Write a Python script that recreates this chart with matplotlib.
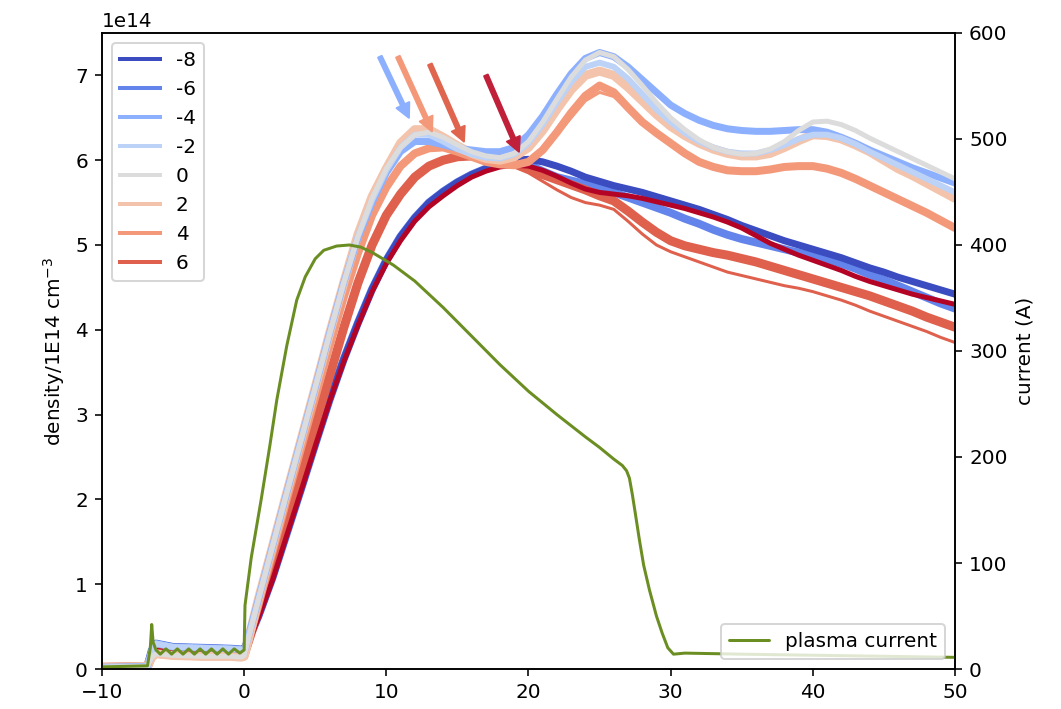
import numpy as np
import matplotlib
matplotlib.use("Agg")
import matplotlib.pyplot as plt

# ---- time axis (ms) ----
t_pre = [-10, -6.8, -6.5, -6.2, -5.0, -3.0, -1.0, -0.2]
t_main = list(range(0, 51))

# ---- density traces (units of 1e14 cm^-3), by bias value ----
pre_blue = [0.02, 0.03, 0.22, 0.30, 0.26, 0.25, 0.24, 0.23]
pre_red = [0.02, 0.03, 0.16, 0.22, 0.19, 0.18, 0.17, 0.17]
pre_pale = [0.02, 0.03, 0.14, 0.18, 0.16, 0.15, 0.15, 0.14]

dens_m8 = [0.23, 0.62, 1.08, 1.60, 2.12, 2.65, 3.17, 3.65, 4.08, 4.48,
           4.82, 5.10, 5.32, 5.50, 5.63, 5.74, 5.83, 5.90, 5.96, 6.00,
           6.01, 5.98, 5.93, 5.87, 5.80, 5.75, 5.70, 5.66, 5.62, 5.57,
           5.52, 5.47, 5.42, 5.36, 5.30, 5.23, 5.17, 5.11, 5.05, 5.00,
           4.95, 4.90, 4.85, 4.79, 4.73, 4.68, 4.62, 4.57, 4.52, 4.47, 4.42]
dens_m6 = [0.23, 0.62, 1.08, 1.60, 2.12, 2.65, 3.17, 3.65, 4.08, 4.48,
           4.82, 5.10, 5.32, 5.50, 5.63, 5.74, 5.83, 5.90, 5.95, 5.97,
           5.95, 5.87, 5.80, 5.76, 5.72, 5.68, 5.62, 5.56, 5.50, 5.44,
           5.38, 5.31, 5.25, 5.18, 5.12, 5.07, 5.03, 4.99, 4.95, 4.91,
           4.87, 4.83, 4.78, 4.72, 4.65, 4.59, 4.52, 4.45, 4.38, 4.31, 4.25]
dens_m4 = [0.20, 0.82, 1.45, 2.08, 2.70, 3.32, 3.95, 4.55, 5.08, 5.50,
           5.85, 6.10, 6.22, 6.22, 6.18, 6.14, 6.12, 6.10, 6.10, 6.15,
           6.30, 6.52, 6.78, 7.02, 7.20, 7.27, 7.22, 7.10, 6.95, 6.80,
           6.65, 6.55, 6.47, 6.41, 6.37, 6.35, 6.34, 6.34, 6.35, 6.36,
           6.36, 6.33, 6.27, 6.20, 6.12, 6.05, 5.98, 5.91, 5.85, 5.79, 5.73]
dens_m2 = [0.18, 0.82, 1.45, 2.08, 2.70, 3.32, 3.95, 4.55, 5.10, 5.53,
           5.88, 6.15, 6.30, 6.30, 6.22, 6.13, 6.07, 6.03, 6.02, 6.07,
           6.20, 6.42, 6.68, 6.92, 7.10, 7.15, 7.10, 6.96, 6.78, 6.60,
           6.45, 6.32, 6.22, 6.15, 6.10, 6.08, 6.08, 6.12, 6.18, 6.25,
           6.30, 6.30, 6.26, 6.19, 6.10, 6.02, 5.94, 5.86, 5.78, 5.70, 5.62]
dens_0 = [0.16, 0.82, 1.45, 2.08, 2.70, 3.32, 3.95, 4.55, 5.10, 5.55,
          5.90, 6.15, 6.30, 6.33, 6.27, 6.18, 6.10, 6.05, 6.03, 6.08,
          6.22, 6.45, 6.72, 6.98, 7.18, 7.27, 7.22, 7.07, 6.88, 6.68,
          6.50, 6.36, 6.24, 6.15, 6.10, 6.07, 6.08, 6.13, 6.22, 6.35,
          6.45, 6.46, 6.42, 6.35, 6.26, 6.18, 6.10, 6.02, 5.94, 5.86, 5.78]
dens_2 = [0.15, 0.82, 1.45, 2.08, 2.70, 3.32, 3.95, 4.55, 5.12, 5.57,
          5.90, 6.20, 6.36, 6.36, 6.27, 6.17, 6.08, 6.02, 6.00, 6.04,
          6.15, 6.35, 6.60, 6.83, 7.00, 7.05, 7.00, 6.86, 6.70, 6.54,
          6.40, 6.29, 6.20, 6.13, 6.08, 6.05, 6.05, 6.08, 6.15, 6.23,
          6.30, 6.29, 6.25, 6.18, 6.10, 6.00, 5.90, 5.82, 5.73, 5.64, 5.55]
dens_4 = [0.15, 0.75, 1.38, 2.00, 2.60, 3.20, 3.80, 4.38, 4.90, 5.35,
          5.68, 5.93, 6.08, 6.14, 6.15, 6.10, 6.04, 5.98, 5.95, 5.94,
          5.98, 6.12, 6.33, 6.56, 6.76, 6.88, 6.80, 6.62, 6.45, 6.32,
          6.20, 6.08, 5.98, 5.92, 5.88, 5.87, 5.87, 5.89, 5.92, 5.93,
          5.93, 5.90, 5.85, 5.78, 5.70, 5.62, 5.54, 5.46, 5.38, 5.29, 5.20]
dens_4b = [0.15, 0.75, 1.38, 2.00, 2.60, 3.20, 3.80, 4.38, 4.90, 5.35,
           5.68, 5.93, 6.08, 6.14, 6.15, 6.10, 6.04, 5.98, 5.95, 5.94,
           5.98, 6.10, 6.30, 6.50, 6.70, 6.80, 6.75, 6.60, 6.45, 6.32,
           6.20, 6.08, 5.98, 5.92, 5.88, 5.87, 5.87, 5.89, 5.92, 5.93,
           5.93, 5.90, 5.85, 5.78, 5.70, 5.62, 5.54, 5.46, 5.38, 5.29, 5.20]
dens_6 = [0.17, 0.68, 1.20, 1.75, 2.30, 2.88, 3.45, 4.02, 4.55, 5.00,
          5.35, 5.60, 5.80, 5.93, 6.00, 6.04, 6.05, 6.03, 6.00, 5.96,
          5.90, 5.83, 5.77, 5.71, 5.65, 5.58, 5.52, 5.40, 5.27, 5.15,
          5.05, 4.99, 4.95, 4.91, 4.88, 4.84, 4.80, 4.75, 4.70, 4.65,
          4.60, 4.55, 4.50, 4.45, 4.40, 4.34, 4.28, 4.22, 4.15, 4.09, 4.03]
dens_6b = [0.17, 0.68, 1.20, 1.75, 2.30, 2.88, 3.45, 4.02, 4.55, 5.00,
           5.35, 5.60, 5.80, 5.93, 6.00, 6.04, 6.04, 6.01, 5.97, 5.92,
           5.85, 5.75, 5.65, 5.56, 5.50, 5.47, 5.42, 5.28, 5.13, 5.00,
           4.92, 4.86, 4.80, 4.74, 4.68, 4.64, 4.60, 4.56, 4.52, 4.49,
           4.45, 4.40, 4.35, 4.29, 4.22, 4.16, 4.10, 4.04, 3.98, 3.91, 3.85]
dens_8 = [0.18, 0.60, 1.05, 1.58, 2.10, 2.63, 3.15, 3.62, 4.05, 4.45,
          4.78, 5.05, 5.28, 5.45, 5.58, 5.70, 5.80, 5.87, 5.92, 5.94,
          5.93, 5.88, 5.81, 5.73, 5.66, 5.62, 5.60, 5.58, 5.55, 5.51,
          5.47, 5.43, 5.38, 5.33, 5.27, 5.20, 5.11, 5.02, 4.95, 4.88,
          4.82, 4.76, 4.70, 4.63, 4.57, 4.52, 4.47, 4.42, 4.38, 4.34, 4.30]

# ---- plasma current (A) ----
t_cur = [-10, -6.8, -6.6, -6.5, -6.4, -6.2, -5.9, -5.5, -5.1, -4.7, -4.3,
         -3.9, -3.5, -3.1, -2.7, -2.3, -1.9, -1.5, -1.1, -0.7, -0.3, 0.0,
         0.06, 0.5, 1.2, 1.8, 2.3, 3.0, 3.7, 4.3, 5.0, 5.6, 6.5, 7.4, 8.2,
         9.0, 10.5, 12, 14, 16, 18, 20, 22, 24, 25, 26, 26.6, 26.9, 27.1,
         27.3, 27.5, 27.8, 28.1, 28.5, 29.0, 29.4, 29.8, 30.2, 31, 35, 40,
         45, 50]
current = [2, 3, 20, 42, 25, 18, 14, 19, 14, 19, 14, 19, 14, 19, 14, 19, 14,
           19, 14, 19, 15, 18, 60, 105, 160, 210, 254, 305, 348, 370, 387,
           395, 399, 400, 398, 393, 381, 366, 341, 314, 287, 262, 240, 219,
           209, 198, 192, 187, 180, 165, 148, 122, 98, 75, 50, 34, 20, 14,
           15, 14, 13, 12, 11]

bias_labels = ["-8", "-6", "-4", "-2", "0", "2", "4", "6"]
bias_colors = ["#3b4cc0", "#6384eb", "#8db0fe", "#bcd2f7", "#dcdcdc",
               "#f3c4ab", "#f4987a", "#de604d"]
col_8 = "#b40426"

# arrows marking the first density maximum (tail, tip) in axis units
arrow_tails = [(9.55, 7.22), (10.82, 7.22), (13.07, 7.13), (17.01, 7.00)]
arrow_tips = [(11.59, 6.50), (13.21, 6.34), (15.46, 6.22), (19.33, 6.10)]
arrow_colors = ["#8db0fe", "#f4987a", "#e0654f", "#c0203a"]

plt.rcParams["font.family"] = ["DejaVu Sans"]
fig = plt.figure(figsize=(1061 / 144, 709 / 144), dpi=144)
ax = fig.add_axes([0.0961, 0.0564, 0.8040, 0.8971])
ax2 = ax.twinx()

scale = 1e14


def trace(pre, main):
    x = np.concatenate([t_pre, t_main])
    y = np.concatenate([pre, main]) * scale
    return x, y


style = dict(solid_capstyle="round", solid_joinstyle="round")

# lower group
for pre, main, c, lw in [
    (pre_blue, dens_m6, bias_colors[1], 4.0),
    (pre_blue, dens_m8, bias_colors[0], 3.5),
    (pre_red, dens_6, bias_colors[7], 4.5),
    (pre_red, dens_6b, bias_colors[7], 1.5),
    (pre_red, dens_8, col_8, 2.5),
]:
    ax.plot(*trace(pre, main), color=c, lw=lw, **style)

# upper group
for pre, main, c, lw in [
    (pre_pale, dens_4, bias_colors[6], 4.0),
    (pre_pale, dens_4b, bias_colors[6], 1.5),
    (pre_pale, dens_2, bias_colors[5], 4.5),
    (pre_blue, dens_m4, bias_colors[2], 3.5),
    (pre_blue, dens_m2, bias_colors[3], 3.0),
    (pre_pale, dens_0, bias_colors[4], 2.5),
]:
    ax.plot(*trace(pre, main), color=c, lw=lw, **style)

for tail, tip, c in zip(arrow_tails, arrow_tips, arrow_colors):
    ax.annotate("", xy=(tip[0], tip[1] * scale),
                xytext=(tail[0], tail[1] * scale),
                arrowprops=dict(color=c, width=2.0, headwidth=7,
                                headlength=7, shrink=0.0))

handles = [plt.Line2D([], [], color=c, lw=2) for c in bias_colors]
ax.legend(handles, bias_labels, loc="upper left", fontsize=10)

ax2.plot(t_cur, current, color="#6b8e23", lw=1.5, label="plasma current",
         **style)
ax2.legend(loc="lower right", fontsize=10)

ax.set_xlim(-10, 50)
ax.set_ylim(0, 7.5e14)
ax2.set_ylim(0, 600)
ax.set_ylabel("density/1E14 cm$^{-3}$")
ax2.set_ylabel("current (A)")

fig.savefig("out.png", dpi=144)
